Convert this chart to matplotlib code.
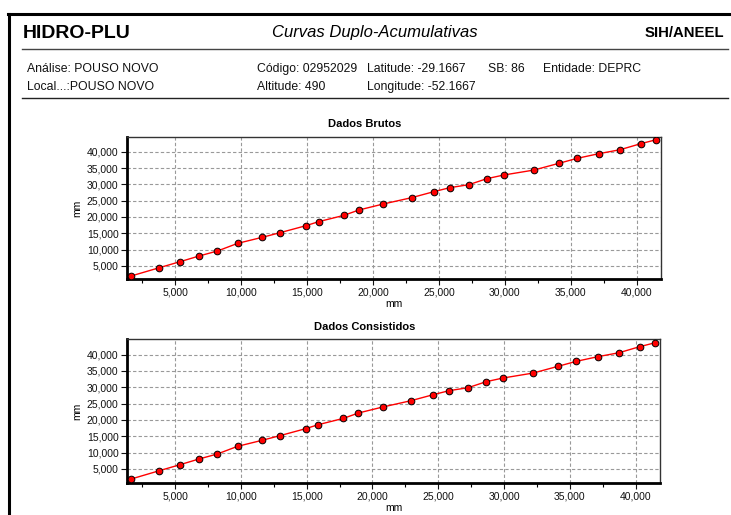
import matplotlib.pyplot as plt
from matplotlib.lines import Line2D
from matplotlib.ticker import FuncFormatter, MultipleLocator

plt.rcParams['font.family'] = ['Liberation Sans', 'DejaVu Sans']

W, H = 731, 515

# accumulated rainfall (mm): station under analysis vs. regional pattern
x_acum = [1670, 3810, 5380, 6820, 8210, 9750, 11620, 12960, 14920, 15880,
          17800, 18940, 20780, 22930, 24620, 25830, 27270, 28640, 29920,
          32220, 34090, 35480, 37120, 38740, 40300, 41490]
y_brutos = [1930, 4470, 6310, 8050, 9580, 11930, 13780, 15190, 17330, 18560,
            20500, 22140, 23970, 25910, 27750, 28980, 29890, 31730, 32850,
            34380, 36420, 37950, 39380, 40600, 42440, 43670]
y_consistidos = list(y_brutos)

titulos = ['Dados Brutos', 'Dados Consistidos']
series = [y_brutos, y_consistidos]


def fx(px):
    return px / W


def fy(py):
    return 1 - py / H


fig = plt.figure(figsize=(W / 100, H / 100), dpi=100)

# frame and header lines
fig.add_artist(Line2D([fx(8), fx(731)], [fy(14), fy(14)], color='black', lw=2.2))
fig.add_artist(Line2D([fx(9), fx(9)], [fy(14), fy(515)], color='black', lw=2.2))
fig.add_artist(Line2D([fx(22), fx(728)], [fy(49), fy(49)], color='#444444', lw=1))
fig.add_artist(Line2D([fx(22), fx(728)], [fy(98), fy(98)], color='#222222', lw=1))

fig.text(fx(23), fy(34), 'HIDRO-PLU', fontsize=14, fontweight='bold', va='center')
fig.text(fx(375), fy(33), 'Curvas Duplo-Acumulativas', fontsize=12, style='italic',
         ha='center', va='center')
fig.text(fx(724), fy(33), 'SIH/ANEEL', fontsize=10.7, fontweight='bold',
         ha='right', va='center')

info = [
    (27, 69, 'Análise: POUSO NOVO'),
    (27, 87, 'Local...:POUSO NOVO'),
    (257, 69, 'Código: 02952029'),
    (367, 69, 'Latitude: -29.1667'),
    (488, 69, 'SB: 86'),
    (543, 69, 'Entidade: DEPRC'),
    (257, 87, 'Altitude: 490'),
    (367, 87, 'Longitude: -52.1667'),
]
for x, y, s in info:
    fig.text(fx(x), fy(y), s, fontsize=8.8, va='center', color='#111111')

# axes boxes in pixels: left, top, right, bottom
caixas = [(127, 137, 661, 279), (127, 339, 660, 483)]
ylims = [(1000, 44500), (700, 44800)]
titulo_y = [124, 327]
fmt = FuncFormatter(lambda v, _: f'{v:,.0f}')

for caixa, yl, tit, ty, ys in zip(caixas, ylims, titulos, titulo_y, series):
    l, t, r, b = caixa
    ax = fig.add_axes([fx(l), fy(b), (r - l) / W, (b - t) / H])
    ax.plot(x_acum, ys, color='red', lw=1, marker='o', markersize=4.8,
            markerfacecolor='#ff0000', markeredgecolor='black', markeredgewidth=0.7,
            zorder=3)
    ax.set_xlim(1350, 41850)
    ax.set_ylim(*yl)
    ax.xaxis.set_major_locator(MultipleLocator(5000))
    ax.xaxis.set_minor_locator(MultipleLocator(2500))
    ax.yaxis.set_major_locator(MultipleLocator(5000))
    ax.xaxis.set_major_formatter(fmt)
    ax.yaxis.set_major_formatter(fmt)
    ax.grid(True, which='major', color='#999999', ls=(0, (3, 2)), lw=0.8)
    ax.tick_params(labelsize=7.5, length=4, width=0.8, pad=2, colors='#111111')
    ax.tick_params(which='minor', length=3, width=0.8)
    for lado in ['left', 'bottom']:
        ax.spines[lado].set_linewidth(2)
        ax.spines[lado].set_color('black')
    for lado in ['top', 'right']:
        ax.spines[lado].set_linewidth(1)
        ax.spines[lado].set_color('#333333')
    ax.set_xlabel('mm', fontsize=7.5, labelpad=1)
    ax.set_ylabel('mm', fontsize=7.5, labelpad=3)
    fig.text(fx(365), fy(ty), tit, fontsize=8, fontweight='bold',
             ha='center', va='center')

fig.savefig('out.png', dpi=100)
